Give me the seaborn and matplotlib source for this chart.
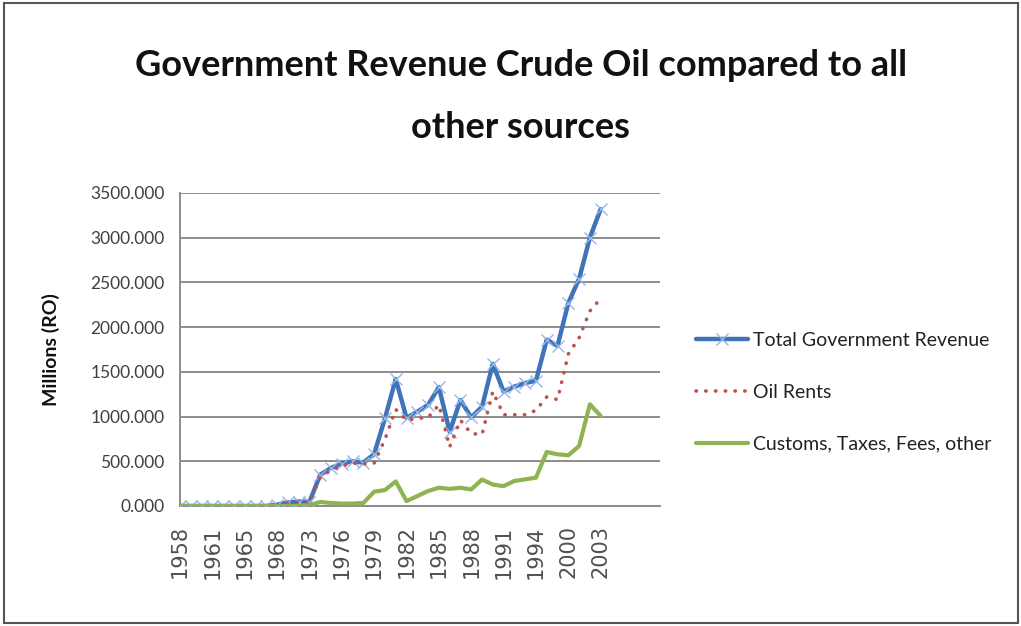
import pandas as pd
import numpy as np
import matplotlib
matplotlib.use("Agg")
import matplotlib.pyplot as plt
import seaborn as sns
from matplotlib.patches import Rectangle

# category axis (Excel text categories, only every third label is printed)
YEARS = ['1958', '1959', '1960', '1961', '1962', '1963', '1965', '1966', '1967', '1968',
         '1970', '1972', '1973', '1974', '1975', '1976', '1977', '1978', '1979', '1980',
         '1981', '1982', '1983', '1984', '1985', '1986', '1987', '1988', '1989', '1990',
         '1991', '1992', '1993', '1994', '1996', '1998', '2000', '2001', '2002', '2003']

TOTAL_REVENUE = [0, 0, 0, 0, 0, 0, 0, 0, 0, 15,
                 40, 50, 45, 350, 425, 475, 500, 485, 580, 980,
                 1420, 985, 1055, 1130, 1330, 830, 1185, 990, 1110, 1590,
                 1280, 1335, 1375, 1400, 1860, 1790, 2270, 2540, 3000, 3320]

OIL_RENTS = [0, 0, 0, 0, 0, 0, 0, 0, 0, 10,
             35, 40, 40, 320, 400, 450, 480, 470, 480, 745,
             1080, 960, 980, 990, 1130, 660, 960, 810, 800, 1280,
             1020, 1020, 1020, 1070, 1220, 1190, 1700, 1880, 2180, 2320]

CUSTOMS_OTHER = [0, 0, 0, 0, 0, 0, 0, 0, 0, 0,
                 0, 0, 10, 45, 34, 27, 27, 34, 160, 178,
                 275, 55, 111, 167, 204, 192, 204, 185, 296, 240,
                 222, 280, 298, 317, 604, 578, 567, 671, 1137, 1007]

SERIES_NAMES = ['Total Government Revenue', 'Oil Rents', 'Customs, Taxes, Fees, other']
Y_TICKS = [0, 500, 1000, 1500, 2000, 2500, 3000, 3500]

df = pd.DataFrame({
    'pos': list(range(len(YEARS))) * 3,
    'value': TOTAL_REVENUE + OIL_RENTS + CUSTOMS_OTHER,
    'series': np.repeat(SERIES_NAMES, len(YEARS)),
})

sns.set_style("white")
plt.rcParams['font.family'] = ['Lato', 'DejaVu Sans']

fig = plt.figure(figsize=(10.21, 6.26), dpi=100)
ax = fig.add_axes([180 / 1021, 1 - 506 / 626, 480 / 1021, 313 / 626])

palette = {'Total Government Revenue': '#3F74B8',
           'Oil Rents': '#C0504D',
           'Customs, Taxes, Fees, other': '#8DB450'}
sns.lineplot(data=df, x='pos', y='value', hue='series', palette=palette,
             ax=ax, legend=False, zorder=3)

lines = ax.get_lines()
lines[0].set_linewidth(3.2)
lines[0].set_marker('x')
lines[0].set_markersize(9)
lines[0].set_markeredgecolor('#94B6E8')
lines[0].set_markeredgewidth(1.0)
lines[1].set_linewidth(2.6)
lines[1].set_linestyle((0, (0.1, 2.6)))
lines[1].set_dash_capstyle('round')
lines[2].set_linewidth(3.0)

ax.set_xlim(0, 44.5)
ax.set_ylim(0, 3500)
ax.set_yticks(Y_TICKS)
ax.set_yticklabels([f"{v:.3f}" for v in Y_TICKS], fontsize=12.5, color='#404040')
tick_pos = list(range(0, len(YEARS), 3))
ax.set_xticks(tick_pos)
ax.set_xticklabels([YEARS[i] for i in tick_pos], rotation=90, fontsize=15,
                   color='#505050', family='DejaVu Sans')
ax.tick_params(axis='y', length=5, color='#888888', pad=6)
ax.tick_params(axis='x', length=0, pad=14)

ax.grid(axis='y', color='#8C8C8C', linewidth=1.4)
ax.set_axisbelow(True)
for side in ['top', 'right']:
    ax.spines[side].set_visible(False)
for side in ['left', 'bottom']:
    ax.spines[side].set_color('#8C8C8C')
    ax.spines[side].set_linewidth(1.4)

ax.set_xlabel('')
ax.set_ylabel('Millions (RO)', fontsize=14, fontweight='bold', color='#111111', labelpad=22)

fig.text(0.51, 1 - 65 / 626, 'Government Revenue Crude Oil compared to all',
         ha='center', va='center', fontsize=26, fontweight='bold', color='#111111')
fig.text(0.51, 1 - 128 / 626, 'other sources',
         ha='center', va='center', fontsize=26, fontweight='bold', color='#111111')

handles = lines
leg = fig.legend(handles, SERIES_NAMES, loc='center left',
                 bbox_to_anchor=(678 / 1021, 1 - 392 / 626), frameon=False,
                 fontsize=14, handlelength=2.7, labelspacing=1.8, handletextpad=0.25)
for t in leg.get_texts():
    t.set_color('#222222')

fig.patches.append(Rectangle((4 / 1021, 3 / 626), 1014 / 1021, 620 / 626,
                             transform=fig.transFigure, fill=False,
                             edgecolor='#555555', linewidth=1.5))

fig.savefig('out.png', dpi=100)
